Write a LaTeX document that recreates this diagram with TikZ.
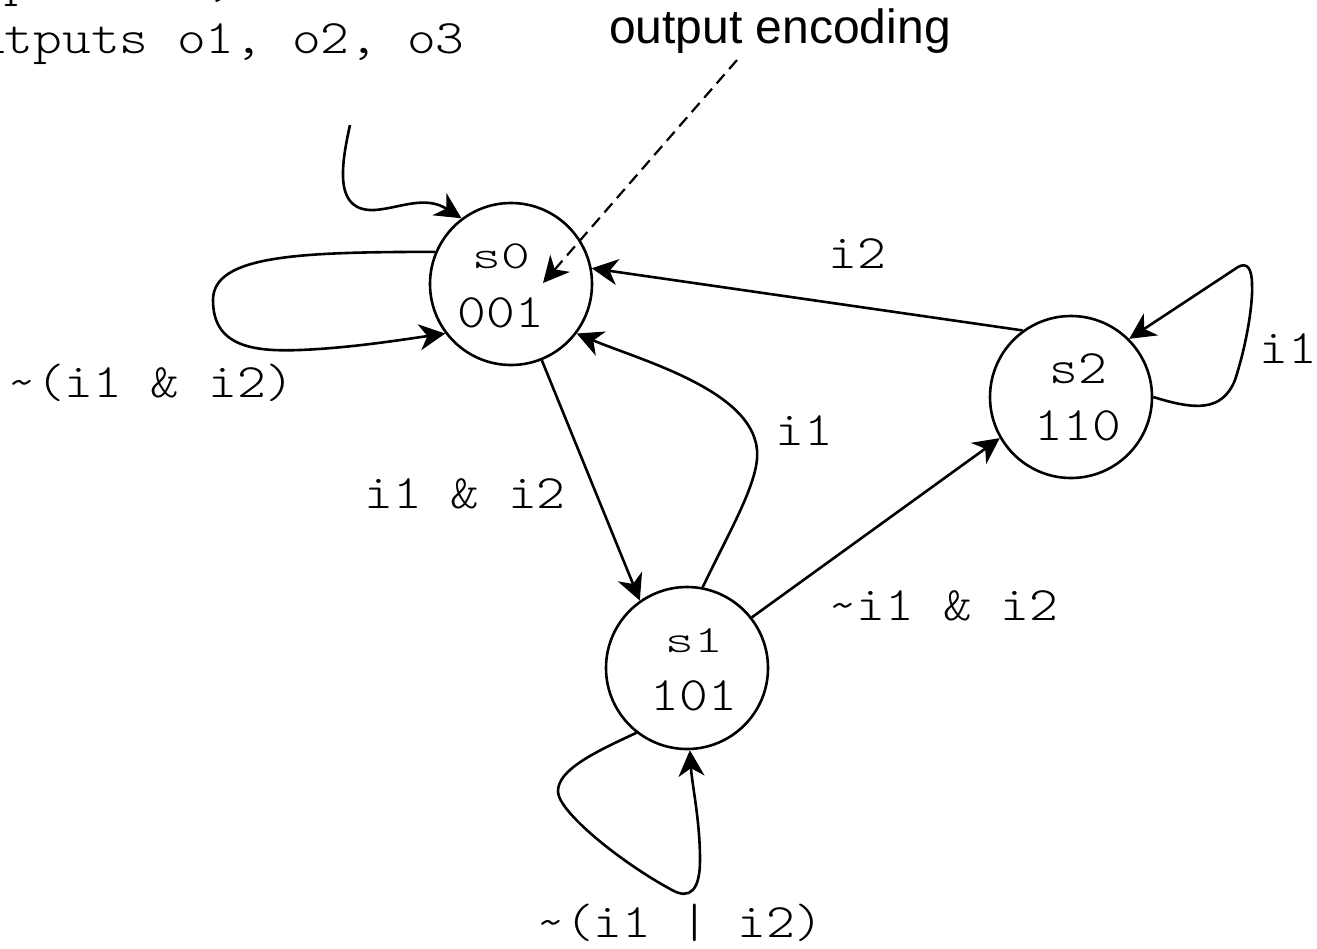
\documentclass[tikz,border=0pt]{standalone}
\usepackage{fontspec}
\usetikzlibrary{arrows.meta,calc}
\newfontfamily\monofont{lmmonolt10-regular}[Extension=.otf,FakeStretch=1.14]
\newfontfamily\encfont{Liberation Sans}
\newcommand{\lblfont}{\monofont\fontsize{24}{29}\selectfont}
\newcommand{\tld}{\textasciitilde}
\newcommand{\squat}[2]{\scalebox{1}[#1]{#2}}

\begin{document}
\begin{tikzpicture}[x=0.5pt,y=-0.5pt,
  statenode/.style={circle,draw,line width=1.3pt,minimum size=81pt,inner sep=0pt},
  lbl/.style={font=\lblfont,inner sep=0pt,anchor=base},
  edge/.style={line width=1.3pt,-{Stealth[length=13pt,width=13pt,inset=4pt]}},
  note/.style={line width=1.1pt,dash pattern=on 6pt off 3.5pt,-{Stealth[length=13pt,width=13pt,inset=4pt]}},
]
\useasboundingbox (0,0) rectangle (1317,948);
\clip (0,0) rectangle (1317,948);

% header text
\node[lbl,anchor=base west] (hdrin)  at (-53,-5) {inputs i1, i2};
\node[lbl,anchor=base west] (hdrout) at (-53,53) {outputs o1, o2, o3};
\node[font=\encfont\fontsize{24}{29}\selectfont,inner sep=0pt,anchor=base] (enc) at (780,43) {output encoding};

% states
\node[statenode] (s0) at (511,284) {};
\node[statenode] (s1) at (687,668) {};
\node[statenode] (s2) at (1071,397) {};

\node[lbl] (s0a) at (501,268) {\squat{0.83}{s0}};
\node[lbl] (s0b) at (501,327) {001};
\node[lbl] (s1a) at (694,652) {\squat{0.8}{s1}};
\node[lbl] (s1b) at (694,710) {101};
\node[lbl] (s2a) at (1078,383) {s2};
\node[lbl] (s2b) at (1078,440) {110};

% initial arrow
\coordinate (init) at (350,125);
\draw[edge] (init) .. controls (340,170) and (335,212) .. (375,210)
  .. controls (400,208) and (425,195) .. (s0.127);

% self loop on s0
\draw[edge] (s0.157) .. controls (300,252) and (213,255) .. (213,300)
  .. controls (213,345) and (250,352) .. (300,350)
  .. controls (350,348) and (400,340) .. (s0.217);
\node[lbl] (l00) at (151,397) {\tld(i1 \& i2)};

% s0 -> s1
\draw[edge] (s0.-68) -- (s1.125);
\node[lbl] (l01) at (465,508) {i1 \& i2};

% s1 -> s0
\draw[edge] (s1.79) .. controls (730,530) and (760,480) .. (757,450)
  .. controls (752,390) and (640,360) .. (s0.-37);
\node[lbl] (l10) at (804,445) {i1};

% s2 -> s0
\draw[edge] (s2.126) -- (s0.11);
\node[lbl] (l20) at (857,268) {i2};

% s1 -> s2
\draw[edge] (s1.38) -- (s2.210);
\node[lbl] (l12) at (943,620) {\tld i1 \& i2};

% self loop on s2
\draw[edge] (s2.0) .. controls (1195,410) and (1222,412) .. (1235,380)
  .. controls (1248,340) and (1253,300) .. (1252,285)
  .. controls (1252,268) and (1247,262) .. (1238,267) -- (s2.45);
\node[lbl] (l22) at (1288,363) {i1};

% self loop on s1
\draw[edge] (s1.232) .. controls (595,752) and (557,770) .. (558,792)
  .. controls (559,812) and (620,862) .. (672,890)
  .. controls (690,900) and (700,890) .. (700,860)
  .. controls (700,820) and (692,785) .. (s1.-88);
\node[lbl] (l11) at (680,937) {\tld(i1 | i2)};

% annotation arrow
\coordinate (enctail) at (737,60);
\coordinate (enchead) at (543,283);
\draw[note] (enctail) -- (enchead);
\end{tikzpicture}
\end{document}
